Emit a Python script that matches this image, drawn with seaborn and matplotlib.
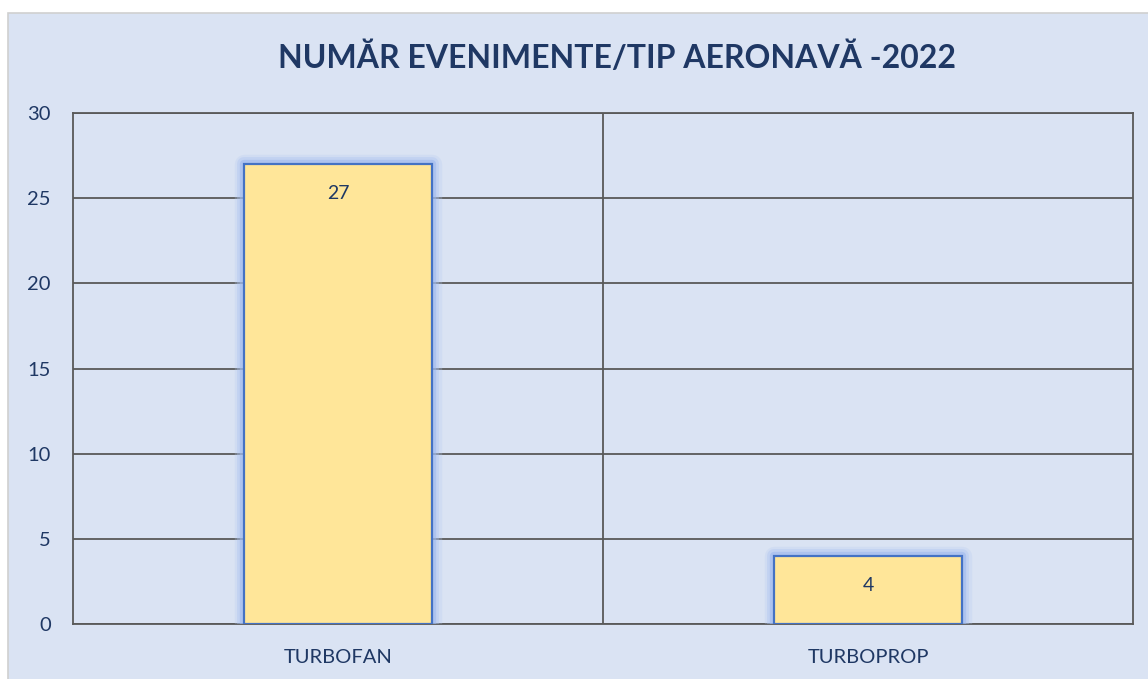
import matplotlib
matplotlib.use("Agg")
import matplotlib.pyplot as plt
import matplotlib.patheffects as pe
from matplotlib.patches import Rectangle
import seaborn as sns
import pandas as pd

# data
aircraft_types = ["TURBOFAN", "TURBOPROP"]
event_counts = [27, 4]
title_text = "NUMĂR EVENIMENTE/TIP AERONAVĂ -2022"

navy = "#1F3864"
grid_col = "#595959"
panel_bg = "#DAE3F3"

sns.set_style("white")
plt.rcParams["font.family"] = ["Lato", "DejaVu Sans"]

df = pd.DataFrame({"type": aircraft_types, "count": event_counts})

fig = plt.figure(figsize=(11.48, 6.79), dpi=100)
fig.patch.set_facecolor("white")
# light blue chart area with thin grey border
fig.patches.append(Rectangle((8 / 1148, -0.01), 1.0, 1 - 13 / 679 + 0.01,
                             transform=fig.transFigure, facecolor=panel_bg,
                             edgecolor="#D0D0D0", linewidth=1.2, zorder=-5))

ax = fig.add_axes([73 / 1148, 1 - 624 / 679, (1133 - 73) / 1148, (624 - 113) / 679])
ax.set_facecolor(panel_bg)

sns.barplot(data=df, x="type", y="count", ax=ax, color="#FFE699",
            width=0.355, edgecolor="#4472C4", linewidth=1.6, saturation=1, zorder=3)

# soft blue glow around the bars
glow = [pe.Stroke(linewidth=14, foreground="#B4CAF2", alpha=0.25, joinstyle="round"),
        pe.Stroke(linewidth=10, foreground="#A9C1F0", alpha=0.35, joinstyle="round"),
        pe.Stroke(linewidth=6, foreground="#9AB6EE", alpha=0.5, joinstyle="round"),
        pe.Normal()]
for bar in ax.patches:
    bar.set_path_effects(glow)

for bar, v in zip(ax.patches, event_counts):
    ax.annotate(str(v), (bar.get_x() + bar.get_width() / 2, bar.get_height()),
                xytext=(0, -21), textcoords="offset points", ha="center", va="center",
                fontsize=14, color=navy, zorder=5)

ax.set_ylim(0, 30)
ax.set_xlim(-0.5, len(aircraft_types) - 0.5)
ax.set_yticks(range(0, 31, 5))
ax.yaxis.grid(True, color=grid_col, linewidth=1.3, zorder=1)
for xb in [i + 0.5 for i in range(len(aircraft_types) - 1)]:
    ax.axvline(xb, color=grid_col, linewidth=1.3, zorder=1)
ax.set_axisbelow(True)
for s in ax.spines.values():
    s.set_color(grid_col)
    s.set_linewidth(1.3)

ax.set_xlabel("")
ax.set_ylabel("")
ax.tick_params(axis="both", length=0, labelsize=14.5, labelcolor=navy)
ax.tick_params(axis="y", pad=16)
ax.tick_params(axis="x", pad=18)

fig.text(617 / 1148, 1 - 57 / 679, title_text, ha="center", va="center",
         fontsize=23, fontweight="bold", color=navy)

fig.savefig("out.png", dpi=100, facecolor=fig.get_facecolor())
